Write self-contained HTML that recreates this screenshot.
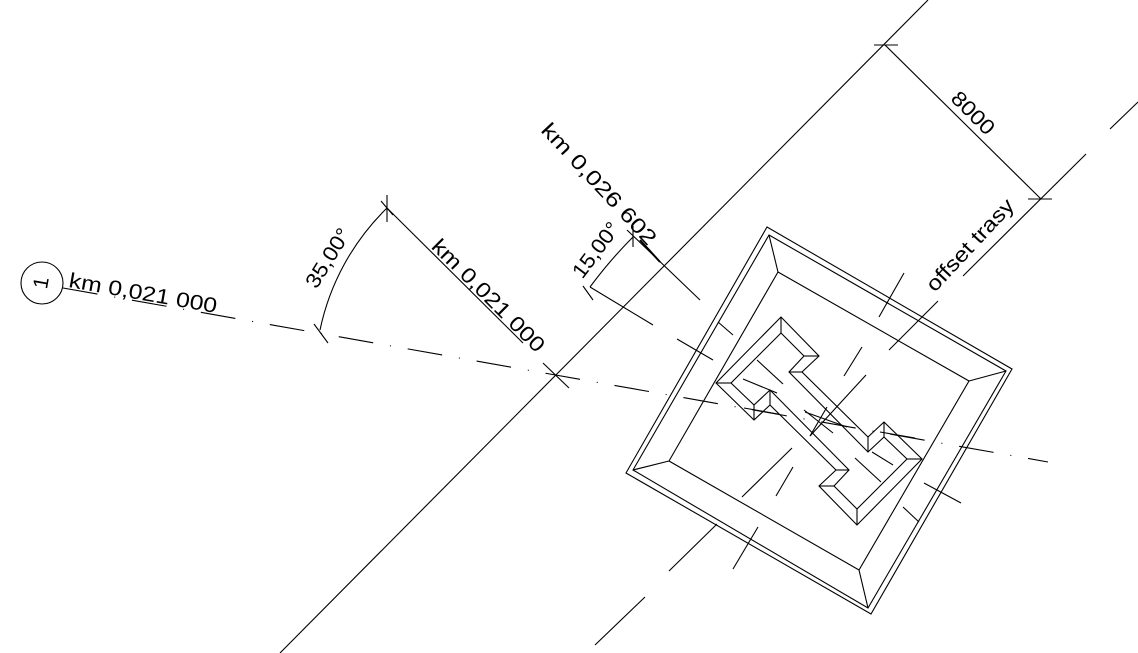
<!DOCTYPE html>
<html><head><meta charset="utf-8"><style>
html,body{margin:0;padding:0;background:#fff;}
svg{display:block;}
text{font-family:"Liberation Sans",sans-serif;font-size:21px;fill:#000;}
</style></head><body>
<svg width="1138" height="653" viewBox="0 0 1138 653" xmlns="http://www.w3.org/2000/svg">
<g stroke="#000" stroke-width="1.1" fill="none">
<line x1="280" y1="653" x2="928" y2="0"/>
<line x1="595" y1="645" x2="645" y2="597"/>
<line x1="669" y1="571" x2="717" y2="524"/>
<line x1="742" y1="497" x2="792" y2="448"/>
<line x1="810" y1="436" x2="866" y2="375"/>
<line x1="889" y1="350" x2="938" y2="301"/>
<line x1="963" y1="276" x2="1086" y2="154"/>
<line x1="1110" y1="129" x2="1138" y2="102"/>
<line x1="63" y1="288" x2="1048" y2="462" stroke-dasharray="35 17 1 17"/>
<circle cx="42" cy="283" r="21"/>
<path d="M387,208 A239,239 0 0,0 320,330"/>
<line x1="387" y1="208" x2="523" y2="343"/>
<line x1="387" y1="195" x2="387" y2="222"/>
<line x1="381" y1="201" x2="393" y2="215"/>
<line x1="314" y1="324" x2="328" y2="343"/>
<line x1="543" y1="363" x2="569" y2="388"/>
<path d="M590,287 Q610,260 633,237"/>
<line x1="590" y1="287" x2="653" y2="325"/>
<line x1="583" y1="286" x2="593" y2="300"/>
<line x1="633" y1="226" x2="633" y2="247"/>
<line x1="627" y1="230" x2="700" y2="300"/>
<line x1="640" y1="240" x2="660" y2="262" stroke-width="2"/>
<line x1="885" y1="45" x2="1041" y2="199"/>
<line x1="874" y1="45" x2="898" y2="45"/>
<line x1="1028" y1="199" x2="1052" y2="199"/>
<polygon points="767,227 1012,369 871,614 626,473"/>
<polygon points="769,235 1006,371 868,608 633,470"/>
<polygon points="778,272 969,381 859,570 669,461"/>
<line x1="769" y1="235" x2="778" y2="272"/>
<line x1="1006" y1="371" x2="969" y2="381"/>
<line x1="868" y1="608" x2="859" y2="570"/>
<line x1="633" y1="470" x2="669" y2="461"/>
<polygon points="716,383 781,317 819,356 802,372 868,437 884,422 922,459 857,525 819,486 836,470 770,405 754,420"/>
<polygon points="731,383 781,333 804,356 789,372 868,452 884,437 907,459 857,509 834,486 849,470 770,390 754,405"/>
<line x1="716" y1="383" x2="731" y2="383"/>
<line x1="781" y1="317" x2="781" y2="333"/>
<line x1="819" y1="356" x2="804" y2="356"/>
<line x1="802" y1="372" x2="789" y2="372"/>
<line x1="868" y1="437" x2="868" y2="452"/>
<line x1="884" y1="422" x2="884" y2="437"/>
<line x1="922" y1="459" x2="907" y2="459"/>
<line x1="857" y1="525" x2="857" y2="509"/>
<line x1="819" y1="486" x2="834" y2="486"/>
<line x1="836" y1="470" x2="849" y2="470"/>
<line x1="770" y1="405" x2="770" y2="390"/>
<line x1="754" y1="420" x2="754" y2="405"/>
<line x1="718" y1="322" x2="733" y2="335"/>
<line x1="677" y1="339" x2="713" y2="360"/>
<line x1="879" y1="317" x2="904" y2="273"/>
<line x1="844" y1="376" x2="862" y2="347"/>
<line x1="743" y1="379" x2="777" y2="393"/>
<line x1="757" y1="360" x2="783" y2="384"/>
<line x1="744" y1="408" x2="778" y2="414"/>
<line x1="804" y1="410" x2="833" y2="433"/>
<line x1="805" y1="412" x2="847" y2="427"/>
<line x1="810" y1="436" x2="827" y2="407"/>
<line x1="880" y1="432" x2="915" y2="438"/>
<line x1="872" y1="452" x2="893" y2="465"/>
<line x1="855" y1="458" x2="881" y2="482"/>
<line x1="924" y1="483" x2="961" y2="503"/>
<line x1="903" y1="507" x2="919" y2="522"/>
<line x1="776" y1="496" x2="793" y2="467"/>
<line x1="733" y1="569" x2="758" y2="527"/>
</g>
<text transform="translate(42,283) rotate(-80)" text-anchor="middle" dy="6" font-size="17">1</text>
<text transform="translate(68,287) rotate(10)" textLength="150" lengthAdjust="spacingAndGlyphs">km  0,021  000</text>
<text transform="translate(328,258) rotate(-58)" text-anchor="middle" dy="7" textLength="66" lengthAdjust="spacingAndGlyphs">35,00°</text>
<text transform="translate(487,297) rotate(45)" text-anchor="middle" dy="5" textLength="150" lengthAdjust="spacingAndGlyphs">km  0,021  000</text>
<text transform="translate(599,184) rotate(47)" text-anchor="middle" dy="7" textLength="158" lengthAdjust="spacingAndGlyphs">km  0,026  602</text>
<text transform="translate(596,250) rotate(-53)" text-anchor="middle" dy="7" textLength="64" lengthAdjust="spacingAndGlyphs">15,00°</text>
<text transform="translate(973,113) rotate(45)" text-anchor="middle" dy="7" textLength="52" lengthAdjust="spacingAndGlyphs">8000</text>
<text transform="translate(970,245) rotate(-47)" text-anchor="middle" dy="7" textLength="118" lengthAdjust="spacingAndGlyphs">offset  trasy</text>
</svg>
</body></html>
